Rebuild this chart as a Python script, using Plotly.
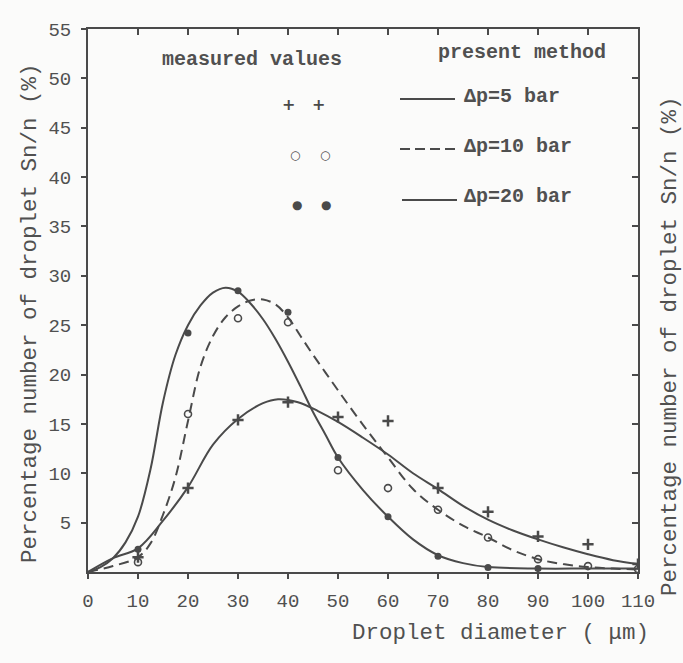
import plotly.graph_objects as go

# ---------------- data ----------------
# measured values
meas_x = [10, 20, 30, 40, 50, 60, 70, 80, 90, 100, 110]
meas_5bar = [1.5, 8.5, 15.4, 17.2, 15.7, 15.3, 8.5, 6.1, 3.6, 2.8, 0.8]
meas_10bar = [1.0, 16.0, 25.7, 25.3, 10.3, 8.5, 6.3, 3.5, 1.3, 0.6, 0.3]
meas_x_20 = [10, 20, 30, 40, 50, 60, 70, 80, 90]
meas_20bar = [2.3, 24.2, 28.5, 26.3, 11.6, 5.6, 1.6, 0.45, 0.35]

# present method (calculated curves)
curve_x_5 = [0, 5, 10, 15, 20, 25, 30, 35, 38, 42, 46, 50, 55, 60, 65, 70, 75, 80, 85, 90, 95, 100, 105, 110]
curve_5bar = [0, 1.4, 2.4, 5.2, 8.6, 12.9, 15.5, 17.1, 17.5, 17.2, 16.3, 15.2, 13.6, 11.9, 10.0, 8.4, 6.7, 5.3, 4.2, 3.3, 2.5, 1.8, 1.2, 0.8]

curve_x_10 = [0, 5, 10, 12.5, 15, 17.5, 20, 22.5, 25, 27.5, 30, 32.5, 35, 37.5, 40, 42.5, 45, 47.5, 50, 55, 60, 65, 70, 75, 80, 85, 90, 95, 100, 105, 110]
curve_10bar = [0, 0.6, 1.5, 2.9, 5.8, 9.6, 15.3, 20.8, 23.9, 25.8, 26.9, 27.5, 27.6, 27.1, 25.8, 23.9, 22.0, 20.2, 18.4, 14.9, 11.6, 8.4, 6.3, 4.7, 3.5, 2.2, 1.3, 0.8, 0.5, 0.35, 0.25]

curve_x_20 = [0, 2.5, 5, 7.5, 10, 12.5, 15, 17.5, 20, 22.5, 25, 27.5, 30, 32.5, 35, 37.5, 40, 42.5, 45, 47.5, 50, 55, 60, 65, 70, 75, 80, 90, 100, 110]
curve_20bar = [0, 0.5, 1.4, 3.0, 5.6, 10.4, 17.2, 22.0, 25.0, 27.0, 28.3, 28.8, 28.4, 27.2, 25.6, 23.6, 21.3, 18.8, 16.2, 13.9, 11.6, 8.3, 5.6, 3.3, 1.7, 0.9, 0.5, 0.35, 0.35, 0.35]

x_ticks = [0, 10, 20, 30, 40, 50, 60, 70, 80, 90, 100, 110]
y_ticks = [5, 10, 15, 20, 25, 30, 35, 40, 45, 50, 55]

# ---------------- style ----------------
INK = "#4a4a4a"
TEXT = "#505050"
BG = "#fbfbfa"
MONO = "Liberation Mono"

W, H = 683, 663
L, R, T, B = 88, 45, 29, 91
PW, PH = W - L - R, H - T - B


def px(xp):
    return (xp - L) / PW


def py(yp):
    return 1 - (yp - T) / PH


fig = go.Figure()

line_kw = dict(color=INK, width=2, shape="spline", smoothing=1.0)
fig.add_trace(go.Scatter(x=curve_x_5, y=curve_5bar, mode="lines", line=dict(**line_kw), showlegend=False))
fig.add_trace(go.Scatter(x=curve_x_10, y=curve_10bar, mode="lines",
                         line=dict(**line_kw, dash="10px,6px"), showlegend=False))
fig.add_trace(go.Scatter(x=curve_x_20, y=curve_20bar, mode="lines", line=dict(**line_kw), showlegend=False))

fig.add_trace(go.Scatter(x=meas_x, y=meas_5bar, mode="markers",
                         marker=dict(symbol="cross-thin", size=8, line=dict(color=INK, width=2.5)),
                         showlegend=False))
fig.add_trace(go.Scatter(x=meas_x, y=meas_10bar, mode="markers",
                         marker=dict(symbol="circle-open", size=7, color=INK, line=dict(color=INK, width=1.6)),
                         showlegend=False))
fig.add_trace(go.Scatter(x=meas_x_20, y=meas_20bar, mode="markers",
                         marker=dict(symbol="circle", size=7, color=INK),
                         showlegend=False))

tickfont = dict(family=MONO, size=19, color=TEXT)
fig.update_layout(
    width=W, height=H,
    margin=dict(l=L, r=R, t=T, b=B),
    paper_bgcolor=BG, plot_bgcolor=BG,
    xaxis=dict(range=[0, 110], tickvals=x_ticks, ticktext=[str(v) for v in x_ticks],
               showgrid=False, zeroline=False, showline=True, linecolor=INK, linewidth=2,
               mirror=True, ticks="outside", ticklen=5, tickwidth=1.5, tickcolor=INK,
               tickfont=tickfont, ticklabelstandoff=5),
    yaxis=dict(range=[0, 55], tickvals=y_ticks, ticktext=[str(v) for v in y_ticks],
               showgrid=False, zeroline=False, showline=True, linecolor=INK, linewidth=2,
               mirror=True, ticks="outside", ticklen=5, tickwidth=1.5, tickcolor=INK,
               tickfont=tickfont, ticklabelstandoff=6),
    xaxis2=dict(range=[0, 110], overlaying="x", side="top", anchor="y",
                tickvals=x_ticks[1:-1], ticks="inside", ticklen=6, tickwidth=1.5, tickcolor=INK,
                showticklabels=False, showgrid=False, zeroline=False, showline=False),
    yaxis2=dict(range=[0, 55], overlaying="y", side="right", anchor="x",
                tickvals=y_ticks[:-1], ticks="inside", ticklen=6, tickwidth=1.5, tickcolor=INK,
                showticklabels=False, showgrid=False, zeroline=False, showline=False),
)
fig.add_trace(go.Scatter(x=[], y=[], xaxis="x2", yaxis="y2", showlegend=False))

ann_font = dict(family=MONO, size=22.5, color=TEXT)
leg_font = dict(family=MONO, size=20, color=TEXT)
annotations = [
    dict(text="Percentage number of droplet Sn/n (%)", x=px(30), y=py(313), textangle=-90, font=ann_font),
    dict(text="Percentage number of droplet Sn/n (%)", x=px(670), y=py(346), textangle=-90, font=ann_font),
    dict(text="Droplet diameter ( μm)", x=px(500), y=py(633), font=dict(family=MONO, size=22.5, color=TEXT)),
    dict(text="<b>measured values</b>", x=px(252), y=py(60), font=leg_font),
    dict(text="<b>present method</b>", x=px(522), y=py(52), font=leg_font),
    dict(text="<b>Δp=5 bar</b>", x=px(462), y=py(96), xanchor="left", font=leg_font),
    dict(text="<b>Δp=10 bar</b>", x=px(462), y=py(146), xanchor="left", font=leg_font),
    dict(text="<b>Δp=20 bar</b>", x=px(462), y=py(196), xanchor="left", font=leg_font),
    dict(text="<b>+</b>", x=px(288), y=py(105), font=dict(family="DejaVu Sans", size=16, color=INK)),
    dict(text="<b>+</b>", x=px(318), y=py(105), font=dict(family="DejaVu Sans", size=16, color=INK)),
    dict(text="<b>○</b>", x=px(295), y=py(155), font=dict(family="DejaVu Sans", size=12, color=INK)),
    dict(text="<b>○</b>", x=px(325), y=py(155), font=dict(family="DejaVu Sans", size=12, color=INK)),
    dict(text="●", x=px(297), y=py(205), font=dict(family="DejaVu Sans", size=12, color=INK)),
    dict(text="●", x=px(326), y=py(205), font=dict(family="DejaVu Sans", size=12, color=INK)),
]
for a in annotations:
    a.setdefault("xanchor", "center")
    a.update(xref="paper", yref="paper", showarrow=False, yanchor="middle")
fig.update_layout(annotations=annotations)

shapes = [
    dict(type="line", x0=px(400), x1=px(455), y0=py(99), y1=py(99), line=dict(color=INK, width=2)),
    dict(type="line", x0=px(400), x1=px(455), y0=py(149), y1=py(149), line=dict(color=INK, width=2, dash="10px,5px")),
    dict(type="line", x0=px(402), x1=px(457), y0=py(200), y1=py(200), line=dict(color=INK, width=2)),
]
for s in shapes:
    s.update(xref="paper", yref="paper")
fig.update_layout(shapes=shapes)

fig.write_html("out.html")
